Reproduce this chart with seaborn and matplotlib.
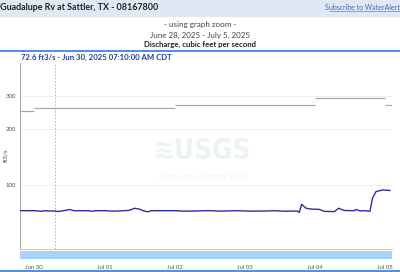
import matplotlib
matplotlib.use("Agg")
import matplotlib.pyplot as plt
import matplotlib.dates as mdates
import seaborn as sns
import pandas as pd
import numpy as np

# ---------------- data ----------------
q_times = ["2025-06-29 19:00", "2025-06-30 00:00", "2025-06-30 02:30", "2025-06-30 03:30",
           "2025-06-30 05:00", "2025-06-30 07:10", "2025-06-30 08:00", "2025-06-30 10:00",
           "2025-06-30 12:10", "2025-06-30 13:30", "2025-06-30 18:00", "2025-06-30 20:00",
           "2025-06-30 21:00", "2025-07-01 00:00", "2025-07-01 03:00", "2025-07-01 06:00",
           "2025-07-01 08:30", "2025-07-01 10:20", "2025-07-01 12:00", "2025-07-01 13:30",
           "2025-07-01 14:50", "2025-07-01 16:00", "2025-07-02 00:00", "2025-07-02 03:00",
           "2025-07-02 07:00", "2025-07-02 10:00", "2025-07-02 13:00", "2025-07-02 15:00",
           "2025-07-02 21:00", "2025-07-03 02:00", "2025-07-03 07:00", "2025-07-03 10:00",
           "2025-07-03 14:00", "2025-07-03 16:00", "2025-07-03 18:00", "2025-07-03 18:40",
           "2025-07-03 19:30", "2025-07-03 21:00", "2025-07-03 23:00", "2025-07-04 01:30",
           "2025-07-04 03:15", "2025-07-04 06:40", "2025-07-04 08:10", "2025-07-04 10:00",
           "2025-07-04 13:30", "2025-07-04 14:05", "2025-07-04 15:30", "2025-07-04 17:00",
           "2025-07-04 18:50", "2025-07-04 19:45", "2025-07-04 20:55", "2025-07-04 23:10",
           "2025-07-05 01:45"]
q_values = [72.8, 72.8, 72.3, 72.8,
            72.5, 72.6, 72.0, 72.8,
            73.9, 72.8, 72.8, 72.3,
            72.8, 72.8, 72.4, 72.7,
            73.1, 75.0, 74.2, 72.6,
            71.8, 72.8, 72.8, 72.4,
            72.5, 72.8, 72.8, 72.4,
            72.8, 72.4, 72.5, 72.8,
            72.3, 72.5, 72.4, 71.3,
            78.8, 75.0, 74.2, 74.0,
            72.2, 72.0, 75.0, 73.0,
            72.8, 74.0, 72.6, 72.8,
            72.2, 85.0, 92.1, 94.0,
            93.4]

stat_days = ["2025-06-29", "2025-06-30", "2025-07-01", "2025-07-02",
             "2025-07-03", "2025-07-04", "2025-07-05"]
stat_values = [249, 257, 259, 269, 269, 293, 269]

y_ticks = [100, 200, 300]
x_tick_days = ["2025-06-30", "2025-07-01", "2025-07-02", "2025-07-03", "2025-07-04", "2025-07-05"]

title = "Guadalupe Rv at Sattler, TX - 08167800"
link = "Subscribe to WaterAlert"
sub1 = "- using graph zoom -"
sub2 = "June 28, 2025 - July 5, 2025"
sub3 = "Discharge, cubic feet per second"
cursor_text = "72.6 ft3/s - Jun 30, 2025 07:10:00 AM CDT"
cursor_time = "2025-06-30 07:10"
ylabel = "ft3/s"

# ---------------- setup ----------------
sns.set_theme(style="white")
plt.rcParams["font.family"] = ["Lato", "DejaVu Sans"]

W, H = 400, 272
fig = plt.figure(figsize=(W / 100, H / 100), dpi=100)

def fx(px):
    return px / W

def fy(py):
    return 1 - py / H

x_start = pd.Timestamp("2025-06-29 19:07")
x_end = pd.Timestamp("2025-07-05 02:24")

# header band
fig.patches.append(matplotlib.patches.Rectangle((0, fy(15.5)), 1, 15.5 / H,
                                                transform=fig.transFigure,
                                                color="#dfe8f3", zorder=0))
fig.text(fx(0), fy(7.5), title, fontsize=6.4, fontweight="bold", color="#222222",
         va="center", ha="left")
fig.text(fx(400), fy(7.5), link, fontsize=5.0, color="#3a6fb8", va="center",
         ha="right")
fig.add_artist(matplotlib.lines.Line2D([fx(329), fx(400)], [fy(11.3), fy(11.3)],
                                       transform=fig.transFigure, color="#3a6fb8", lw=0.4))

fig.text(0.5, fy(25), sub1, fontsize=5.8, color="#444444", ha="center", va="center")
fig.text(0.5, fy(35), sub2, fontsize=5.8, color="#444444", ha="center", va="center")
fig.text(0.5, fy(44.5), sub3, fontsize=5.6, fontweight="bold", color="#222222",
         ha="center", va="center")
fig.add_artist(matplotlib.lines.Line2D([0, 1], [fy(50.5), fy(50.5)],
                                       transform=fig.transFigure, color="#4a90e2", lw=1.4))
fig.add_artist(matplotlib.lines.Line2D([0, 1], [fy(271), fy(271)],
                                       transform=fig.transFigure, color="#4a90e2", lw=1.4))
fig.text(fx(21), fy(57), cursor_text, fontsize=5.6, fontweight="bold",
         color="#2e3a8f", ha="left", va="center")
fig.text(fx(5.5), fy(155), ylabel, fontsize=4.5, color="#444444", rotation=90,
         ha="center", va="center")

# ---------------- main axes ----------------
ax = fig.add_axes([fx(20), fy(248.5), fx(372), (248.5 - 63) / H])
ax.set_yscale("log")
ax.set_ylim(45.7, 449)
ax.set_xlim(x_start, x_end)

# watermark
ax.text(0.49, 0.53, "≋USGS", transform=ax.transAxes, fontsize=20, fontweight="bold",
        fontstretch="condensed", color="#edf3f3", ha="center", va="center", zorder=0,
        family=["DejaVu Sans"])
ax.text(0.49, 0.39, "science for a changing world", transform=ax.transAxes, fontsize=5.3,
        style="italic", color="#edf3f3", ha="center", va="center", zorder=0)

for t in y_ticks:
    ax.axhline(t, color="#ececec", lw=0.6, zorder=1)

# statistic step segments (daily values)
s_start = [max(pd.Timestamp(d), x_start) for d in stat_days]
s_end = [min(pd.Timestamp(d) + pd.Timedelta(days=1), x_end) for d in stat_days]
ax.hlines(stat_values, s_start, s_end, colors="#a8a8a8", lw=0.9, zorder=2)

# discharge
df = pd.DataFrame({"time": pd.to_datetime(q_times), "q": q_values})
sns.lineplot(data=df, x="time", y="q", ax=ax, color="#2f2f9c", lw=1.0, zorder=3)

ax.axvline(pd.Timestamp(cursor_time), color="#aaaaaa", lw=0.6, ls=(0, (2, 2)), zorder=2)

ax.set_yticks(y_ticks)
ax.set_yticklabels([str(t) for t in y_ticks])
ax.yaxis.set_minor_locator(matplotlib.ticker.NullLocator())
ax.tick_params(axis="y", labelsize=4.3, colors="#555555", length=0, pad=3)
ax.set_xticks([])
ax.set_xlabel("")
ax.set_ylabel("")
for s in ["top", "right"]:
    ax.spines[s].set_visible(False)
ax.spines["left"].set_color("#999999")
ax.spines["left"].set_linewidth(0.6)
ax.spines["bottom"].set_color("#cccccc")
ax.spines["bottom"].set_linewidth(0.8)
ax.set_facecolor("none")

# ---------------- navigator ----------------
nav = fig.add_axes([fx(20), fy(259), fx(372), 8 / H])
nav.set_xlim(x_start, x_end)
nav.set_ylim(0, 1)
nav.set_facecolor("#a6d2fc")
for s in nav.spines.values():
    s.set_visible(False)
nav.set_yticks([])
nav.set_xticks(pd.to_datetime(x_tick_days))
nav.xaxis.set_major_formatter(mdates.DateFormatter("%b %d"))
nav.tick_params(axis="x", labelsize=4.3, colors="#555555", length=2, width=0.5,
                pad=2, direction="out")
nav.set_xlabel("")

fig.savefig("out.png", dpi=100)
